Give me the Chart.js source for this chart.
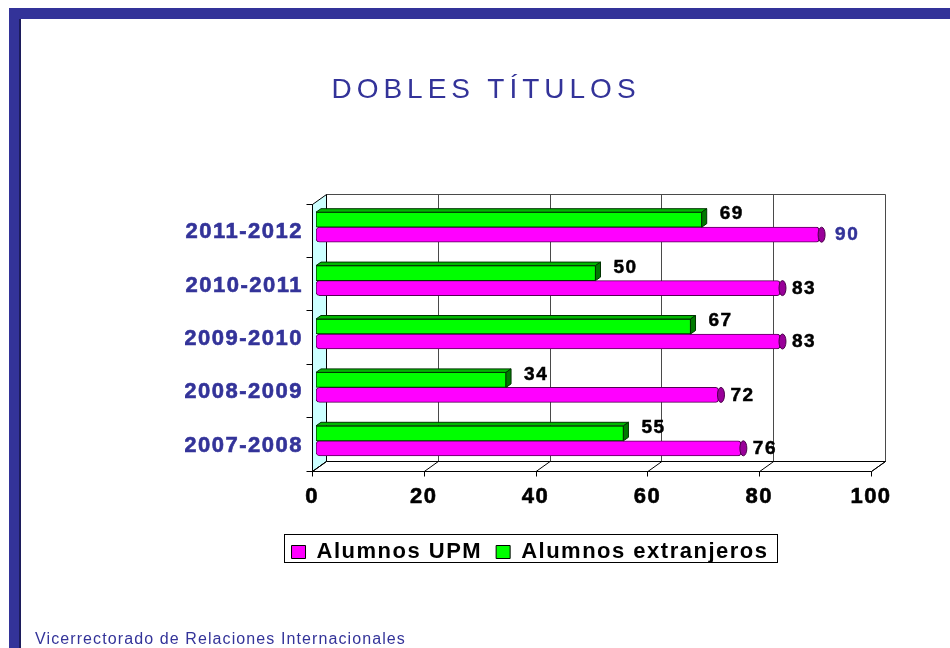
<!DOCTYPE html>
<html lang="es">
<head>
<meta charset="utf-8">
<title>Dobles títulos</title>
<script src="https://cdn.jsdelivr.net/npm/chart.js@4.4.1/dist/chart.umd.min.js"></script>
<style>
  html, body { margin: 0; padding: 0; background: #fff; }
  body { width: 950px; height: 648px; position: relative; overflow: hidden;
         font-family: "Liberation Sans", Arial, Helvetica, sans-serif; }
  #frame-top { position: absolute; left: 9px; top: 8px; width: 941px; height: 11px; background: #333399; }
  #frame-left { position: absolute; left: 9px; top: 19px; width: 10px; height: 629px; background: #333399; }
  #frame-left-edge { position: absolute; left: 19px; top: 19px; width: 2px; height: 629px; background: #1c1c5c; }
  #chart { position: absolute; left: 0; top: 0; }
  #title { position: absolute; top: 75px; left: 486px; transform: translateX(-50%);
           font-size: 28px; line-height: 28px; letter-spacing: 5px; color: #333399; white-space: nowrap; }
  #footer { position: absolute; left: 35px; top: 631px; font-size: 16px; line-height: 16px;
            letter-spacing: 1.1px; color: #333399; white-space: nowrap; }
</style>
</head>
<body>
<div id="frame-top"></div>
<div id="frame-left"></div>
<div id="frame-left-edge"></div>
<canvas id="chart" width="950" height="648"></canvas>
<div id="title">DOBLES TÍTULOS</div>
<div id="footer">Vicerrectorado de Relaciones Internacionales</div>
<script>
// Academic years, top to bottom
const categories = ['2011-2012', '2010-2011', '2009-2010', '2008-2009', '2007-2008'];
// Students per year
const alumnosUPM = [90, 83, 83, 72, 76];
const alumnosExtranjeros = [69, 50, 67, 34, 55];
// Value axis ticks
const xTicks = [0, 20, 40, 60, 80, 100];
const seriesNames = ['Alumnos UPM', 'Alumnos extranjeros'];

const FONT = '"Liberation Sans", Arial, Helvetica, sans-serif';
Chart.defaults.font.family = FONT;

// Oblique offsets of the front and back planes relative to the bar plane
const FRONT = { dx: -4, dy: 3 };
const BACK = { dx: 10, dy: -7 };
// Depth of the block bars
const BAR_DEPTH = { dx: 5, dy: -3.5 };

const crisp = v => Math.round(v) + 0.5;

const letterSpacing = {
  id: 'letterSpacing',
  beforeUpdate(chart) { chart.ctx.letterSpacing = '1.5px'; },
  beforeLayout(chart) { chart.ctx.letterSpacing = '1.5px'; },
  beforeDraw(chart) { chart.ctx.letterSpacing = '1.5px'; }
};

// Walls, floor, gridlines and axis ticks of the 3-D frame
const frame3d = {
  id: 'frame3d',
  beforeDatasetsDraw(chart) {
    const { ctx, chartArea: a, scales: { x, y } } = chart;
    const x0 = x.getPixelForValue(xTicks[0]);
    const x1 = x.getPixelForValue(xTicks[xTicks.length - 1]);
    const top = a.top, bottom = a.bottom;
    ctx.save();
    ctx.lineWidth = 1;

    // back wall
    ctx.fillStyle = '#ffffff';
    ctx.fillRect(x0 + BACK.dx, top + BACK.dy, x1 - x0, bottom - top);

    // back gridlines
    ctx.strokeStyle = '#4a4a4a';
    ctx.beginPath();
    xTicks.forEach(v => {
      const px = crisp(x.getPixelForValue(v) + BACK.dx);
      ctx.moveTo(px, crisp(top + BACK.dy));
      ctx.lineTo(px, crisp(bottom + BACK.dy));
    });
    ctx.moveTo(crisp(x0 + BACK.dx), crisp(top + BACK.dy));
    ctx.lineTo(crisp(x1 + BACK.dx), crisp(top + BACK.dy));
    ctx.stroke();

    // left side wall
    ctx.beginPath();
    ctx.moveTo(crisp(x0 + FRONT.dx), crisp(top + FRONT.dy));
    ctx.lineTo(crisp(x0 + BACK.dx), crisp(top + BACK.dy));
    ctx.lineTo(crisp(x0 + BACK.dx), crisp(bottom + BACK.dy));
    ctx.lineTo(crisp(x0 + FRONT.dx), crisp(bottom + FRONT.dy));
    ctx.closePath();
    ctx.fillStyle = '#ccffff';
    ctx.fill();
    ctx.strokeStyle = '#000';
    ctx.stroke();

    // floor
    ctx.beginPath();
    ctx.moveTo(crisp(x0 + FRONT.dx), crisp(bottom + FRONT.dy));
    ctx.lineTo(crisp(x0 + BACK.dx), crisp(bottom + BACK.dy));
    ctx.lineTo(crisp(x1 + BACK.dx), crisp(bottom + BACK.dy));
    ctx.lineTo(crisp(x1 + FRONT.dx), crisp(bottom + FRONT.dy));
    ctx.closePath();
    ctx.fillStyle = '#ffffff';
    ctx.fill();
    ctx.stroke();

    // floor gridlines and value-axis ticks
    ctx.beginPath();
    xTicks.forEach(v => {
      const px = x.getPixelForValue(v);
      ctx.moveTo(px + BACK.dx + 0.5, crisp(bottom + BACK.dy));
      ctx.lineTo(px + FRONT.dx + 0.5, crisp(bottom + FRONT.dy));
      ctx.moveTo(crisp(px + FRONT.dx), crisp(bottom + FRONT.dy));
      ctx.lineTo(crisp(px + FRONT.dx), crisp(bottom + FRONT.dy) + 5);
    });
    ctx.stroke();

    // front category axis with ticks at band edges
    const band = (bottom - top) / categories.length;
    ctx.beginPath();
    ctx.moveTo(crisp(x0 + FRONT.dx), crisp(top + FRONT.dy));
    ctx.lineTo(crisp(x0 + FRONT.dx), crisp(bottom + FRONT.dy));
    for (let i = 0; i <= categories.length; i++) {
      const py = crisp(top + i * band + FRONT.dy);
      ctx.moveTo(crisp(x0 + FRONT.dx) - 6, py);
      ctx.lineTo(crisp(x0 + FRONT.dx), py);
    }
    ctx.stroke();
    ctx.restore();
  }
};

// Top and side faces of the block bars, end caps of the cylinder bars, value labels
const barFaces = {
  id: 'barFaces',
  afterDatasetsDraw(chart) {
    const { ctx } = chart;
    ctx.save();
    ctx.lineWidth = 1;

    // block bars (Alumnos extranjeros)
    const blocks = chart.getDatasetMeta(0).data;
    blocks.forEach(bar => {
      const { x: xe, y: yc, base, height } = bar.getProps(['x', 'y', 'base', 'height'], true);
      const yt = yc - height / 2, yb = yc + height / 2;
      ctx.strokeStyle = '#003300';
      // top face
      ctx.beginPath();
      ctx.moveTo(base, yt);
      ctx.lineTo(base + BAR_DEPTH.dx, yt + BAR_DEPTH.dy);
      ctx.lineTo(xe + BAR_DEPTH.dx, yt + BAR_DEPTH.dy);
      ctx.lineTo(xe, yt);
      ctx.closePath();
      ctx.fillStyle = '#00b800';
      ctx.fill();
      ctx.stroke();
      // side face
      ctx.beginPath();
      ctx.moveTo(xe, yt);
      ctx.lineTo(xe + BAR_DEPTH.dx, yt + BAR_DEPTH.dy);
      ctx.lineTo(xe + BAR_DEPTH.dx, yb + BAR_DEPTH.dy);
      ctx.lineTo(xe, yb);
      ctx.closePath();
      ctx.fillStyle = '#007a00';
      ctx.fill();
      ctx.stroke();
    });

    // cylinder caps (Alumnos UPM)
    const cylinders = chart.getDatasetMeta(1).data;
    cylinders.forEach(bar => {
      const { x: xe, y: yc, height } = bar.getProps(['x', 'y', 'height'], true);
      ctx.beginPath();
      ctx.ellipse(xe + 2.5, yc, 3.5, height / 2, 0, 0, Math.PI * 2);
      ctx.fillStyle = '#990099';
      ctx.fill();
      ctx.strokeStyle = '#4d004d';
      ctx.stroke();
    });

    // value labels
    ctx.font = 'bold 19px ' + FONT;
    ctx.textBaseline = 'middle';
    ctx.textAlign = 'left';
    ctx.lineWidth = 0.5;
    const label = (text, px, py, color) => {
      ctx.fillStyle = color;
      ctx.strokeStyle = color;
      ctx.fillText(text, px, py);
      ctx.strokeText(text, px, py);
    };
    blocks.forEach((bar, i) => {
      const { x: xe, y: yc } = bar.getProps(['x', 'y'], true);
      label(String(alumnosExtranjeros[i]), xe + 18, yc - 5.5, '#000');
    });
    cylinders.forEach((bar, i) => {
      const { x: xe, y: yc } = bar.getProps(['x', 'y'], true);
      // the latest year is highlighted
      const latest = i === 0;
      label(String(alumnosUPM[i]), xe + (latest ? 16 : 12), yc + 0.5, latest ? '#333399' : '#000');
    });
    ctx.restore();
  }
};

// Border around the legend
const legendBorder = {
  id: 'legendBorder',
  afterDraw(chart) {
    const boxes = chart.legend && chart.legend.legendHitBoxes;
    if (!boxes || !boxes.length) return;
    const left = Math.min(...boxes.map(b => b.left)) - 8;
    const right = Math.max(...boxes.map(b => b.left + b.width)) + 8;
    const top = boxes[0].top - 7;
    const bottom = boxes[0].top + boxes[0].height - 1;
    const { ctx } = chart;
    ctx.save();
    ctx.strokeStyle = '#000';
    ctx.lineWidth = 1;
    ctx.strokeRect(crisp(left), crisp(top), Math.round(right - left), Math.round(bottom - top));
    ctx.restore();
  }
};

new Chart(document.getElementById('chart'), {
  type: 'bar',
  data: {
    labels: categories,
    datasets: [
      {
        label: seriesNames[1],
        data: alumnosExtranjeros,
        backgroundColor: '#00ff00',
        borderColor: '#003300',
        borderWidth: 1,
        borderSkipped: false,
        barThickness: 15
      },
      {
        label: seriesNames[0],
        data: alumnosUPM,
        backgroundColor: '#ff00ff',
        borderColor: '#550055',
        borderWidth: 1,
        borderSkipped: false,
        borderRadius: { topLeft: 4, bottomLeft: 4, topRight: 3, bottomRight: 3 },
        barThickness: 15
      }
    ]
  },
  options: {
    indexAxis: 'y',
    responsive: false,
    animation: false,
    events: [],
    layout: { padding: { left: 185, right: 75, top: 200.5, bottom: 75 } },
    scales: {
      x: {
        min: xTicks[0],
        max: xTicks[xTicks.length - 1],
        afterBuildTicks: s => { s.ticks = xTicks.map(v => ({ value: v })); },
        ticks: { color: '#000', textStrokeColor: '#000', textStrokeWidth: 0.6,
                 font: { size: 22, weight: 'bold' }, padding: 16, labelOffset: -4, maxRotation: 0 },
        grid: { display: false, drawTicks: false },
        border: { display: false },
        afterFit: s => { s.height = 59.5; }
      },
      y: {
        ticks: { color: '#333399', textStrokeColor: '#333399', textStrokeWidth: 0.6,
                 font: { size: 22, weight: 'bold' }, padding: 13, labelOffset: 5 },
        grid: { display: false, drawTicks: false },
        border: { display: false },
        afterFit: s => { s.width = 131; }
      }
    },
    plugins: {
      legend: {
        position: 'bottom',
        reverse: true,
        labels: {
          color: '#000',
          boxWidth: 14,
          boxHeight: 13,
          padding: 14,
          font: { size: 22, weight: 'bold' },
          generateLabels: chart => Chart.defaults.plugins.legend.labels.generateLabels(chart)
            .map(item => Object.assign(item, { strokeStyle: '#000', lineWidth: 1 }))
        }
      },
      tooltip: { enabled: false }
    }
  },
  plugins: [letterSpacing, frame3d, barFaces, legendBorder]
});
</script>
</body>
</html>
